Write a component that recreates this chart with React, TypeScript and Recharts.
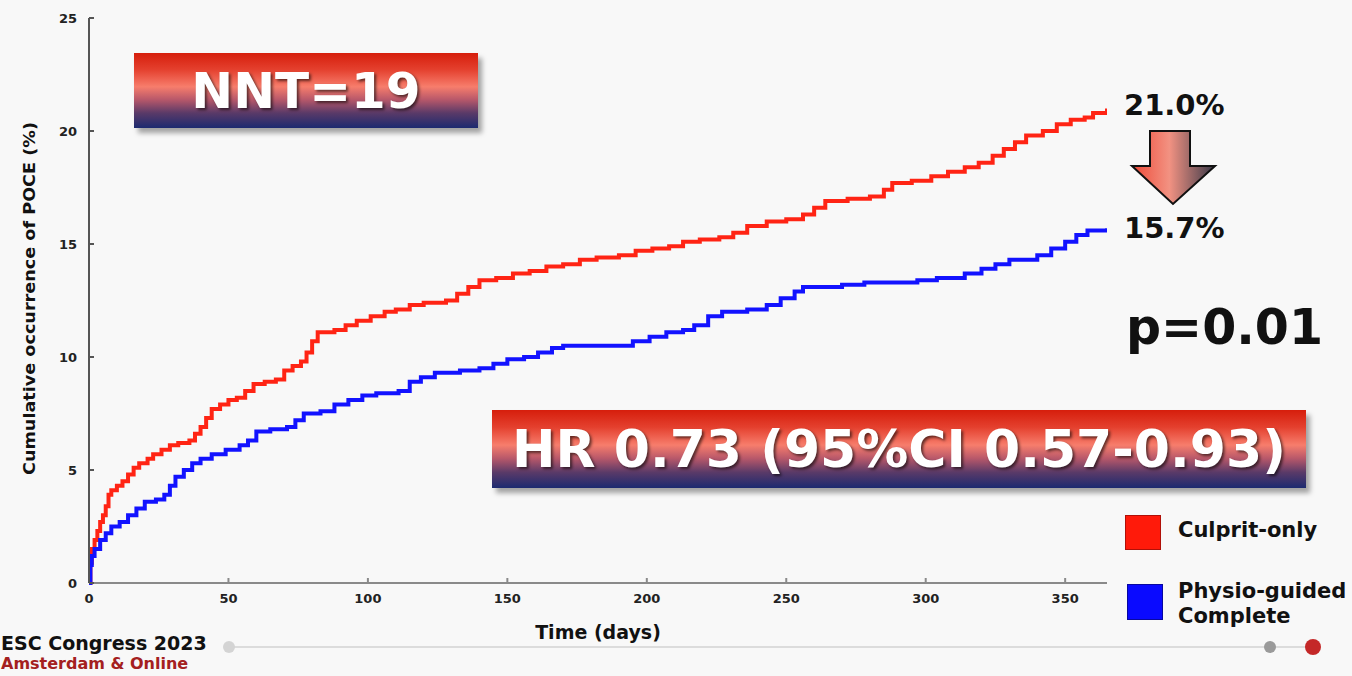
import React from 'react';
import { LineChart, Line, XAxis, YAxis } from 'recharts';

// Culprit-only arm (red)
const culpritDays = [0, 0.5, 1, 2, 3, 4, 5, 6, 7, 8, 10, 12, 14, 16, 18, 21, 23, 26, 29, 32, 36, 38, 40, 42, 44, 47, 50, 53, 56, 59, 63, 67, 70, 73, 76, 78, 80, 82, 88, 92, 96, 101, 106, 110, 115, 120, 128, 132, 136, 140, 146, 152, 158, 164, 170, 176, 182, 190, 196, 202, 208, 213, 219, 226, 231, 236, 243, 250, 256, 260, 264, 272, 280, 285, 288, 295, 302, 308, 314, 319, 324, 328, 332, 336, 342, 347, 352, 357, 360, 365];
const culpritPct = [0, 0.9, 1.5, 1.9, 2.3, 2.7, 3.0, 3.4, 3.9, 4.1, 4.3, 4.5, 4.8, 5.1, 5.3, 5.5, 5.7, 5.9, 6.1, 6.2, 6.3, 6.6, 6.9, 7.3, 7.7, 7.9, 8.1, 8.2, 8.5, 8.8, 8.9, 9.0, 9.4, 9.6, 9.8, 10.2, 10.7, 11.1, 11.2, 11.4, 11.6, 11.8, 12.0, 12.1, 12.3, 12.4, 12.5, 12.8, 13.1, 13.4, 13.5, 13.7, 13.8, 14.0, 14.1, 14.3, 14.4, 14.5, 14.7, 14.8, 14.9, 15.1, 15.2, 15.3, 15.5, 15.8, 16.0, 16.1, 16.3, 16.6, 16.9, 17.0, 17.1, 17.4, 17.7, 17.8, 18.0, 18.2, 18.4, 18.6, 18.9, 19.2, 19.5, 19.8, 20.0, 20.3, 20.5, 20.6, 20.8, 21.0];

// Physiology-guided complete arm (blue)
const physioDays = [0, 0.5, 1, 2, 4, 6, 8, 11, 14, 17, 20, 24, 27, 29, 31, 34, 37, 40, 44, 49, 54, 57, 60, 65, 71, 74, 77, 83, 88, 93, 98, 103, 111, 115, 119, 124, 133, 140, 145, 150, 156, 161, 166, 170, 188, 195, 201, 207, 213, 217, 222, 227, 236, 243, 248, 253, 256, 270, 278, 297, 304, 314, 320, 325, 330, 340, 345, 350, 354, 358, 365];
const physioPct = [0, 0.8, 1.2, 1.5, 1.9, 2.2, 2.5, 2.7, 3.0, 3.3, 3.6, 3.7, 3.9, 4.3, 4.7, 5.0, 5.3, 5.5, 5.7, 5.9, 6.1, 6.3, 6.7, 6.8, 6.9, 7.2, 7.5, 7.6, 7.9, 8.1, 8.3, 8.4, 8.5, 8.9, 9.1, 9.3, 9.4, 9.5, 9.7, 9.9, 10.0, 10.2, 10.4, 10.5, 10.5, 10.7, 10.9, 11.1, 11.2, 11.4, 11.8, 12.0, 12.1, 12.3, 12.6, 12.9, 13.1, 13.2, 13.3, 13.4, 13.5, 13.7, 13.9, 14.1, 14.3, 14.5, 14.8, 15.1, 15.4, 15.6, 15.7];

const xTicks = [0, 50, 100, 150, 200, 250, 300, 350];
const yTicks = [0, 5, 10, 15, 20, 25];
const topTicks = [0, 1, 2, 3, 4, 5, 6, 7, 8, 9];
const rightTicks = [1, 2, 3, 4, 5];

const culpritData = culpritDays.map((d, i) => ({ day: d, pct: culpritPct[i] }));
const physioData = physioDays.map((d, i) => ({ day: d, pct: physioPct[i] }));

const FONT = '"DejaVu Sans", Verdana, sans-serif';
const RED = '#ff2414';
const BLUE = '#1212ff';

const boxGradient =
  'linear-gradient(to bottom, #d61e0c 0%, #e4402e 22%, #f77d6c 45%, #b8586a 62%, #5a3a68 80%, #1c2a70 100%)';

const YLabel = (props: any) => {
  const vb = props.viewBox || {};
  const cx = 30;
  const cy = vb.y + vb.height / 2 - 2;
  return (
    <text
      x={cx}
      y={cy}
      transform={`rotate(-90 ${cx} ${cy})`}
      textAnchor="middle"
      dominantBaseline="central"
      fontFamily={FONT}
      fontSize={15}
      fontWeight="bold"
      fill="#111"
      textLength={353}
      lengthAdjust="spacingAndGlyphs"
    >
      Cumulative occurrence of POCE (%)
    </text>
  );
};

const XLabel = (props: any) => {
  const vb = props.viewBox || {};
  return (
    <text
      x={vb.x + vb.width / 2}
      y={632}
      textAnchor="middle"
      dominantBaseline="central"
      fontFamily={FONT}
      fontSize={19}
      fontWeight="bold"
      fill="#111"
    >
      Time (days)
    </text>
  );
};

const App: React.FC = () => {
  const tickStyle = { fontFamily: FONT, fontSize: 13, fontWeight: 'bold', fill: '#222' } as any;

  return (
    <div style={{ position: 'absolute', left: 0, top: 0, width: 1352, height: 676, background: '#f8f8f8', overflow: 'hidden', fontFamily: FONT }}>
      <LineChart width={1352} height={676} data={culpritData} margin={{ top: 18, right: 245, bottom: 63, left: 29 }}>
        <XAxis
          dataKey="day"
          type="number"
          domain={[0, 365]}
          ticks={xTicks}
          allowDataOverflow
          height={30}
          stroke="#8a8a8a"
          strokeWidth={2}
          tickSize={-5}
          tickMargin={16}
          tick={tickStyle}
          label={<XLabel />}
        />
        <XAxis
          xAxisId="top"
          orientation="top"
          type="number"
          domain={[-0.2545, 9]}
          ticks={topTicks}
          height={0}
          stroke="#9a9a9a"
          strokeWidth={2}
          tickSize={-4}
          tick={false}
        />
        <YAxis
          type="number"
          domain={[0, 25]}
          ticks={yTicks}
          width={60}
          stroke="#555"
          strokeWidth={2}
          tickSize={-5}
          tickMargin={17}
          tick={tickStyle}
          label={<YLabel />}
        />
        <YAxis
          yAxisId="right"
          orientation="right"
          type="number"
          domain={[0, 6]}
          ticks={rightTicks}
          width={0}
          stroke="#555"
          strokeWidth={2}
          tickSize={-5}
          tick={false}
        />
        <Line
          data={culpritData}
          dataKey="pct"
          type="stepAfter"
          stroke={RED}
          strokeWidth={4}
          dot={false}
          activeDot={false}
          isAnimationActive={false}
        />
        <Line
          data={physioData}
          dataKey="pct"
          type="stepAfter"
          stroke={BLUE}
          strokeWidth={4}
          dot={false}
          activeDot={false}
          isAnimationActive={false}
        />
      </LineChart>

      {/* NNT box */}
      <div style={{ position: 'absolute', left: 134, top: 53, width: 344, height: 75, background: boxGradient, boxShadow: '4px 5px 5px rgba(0,0,0,0.35)', display: 'flex', alignItems: 'center', justifyContent: 'center' }}>
        <span style={{ color: '#fff', fontWeight: 'bold', fontSize: 50, textShadow: '2px 2px 3px rgba(0,0,0,0.6)', lineHeight: 1 }}>NNT=19</span>
      </div>

      {/* HR box */}
      <div style={{ position: 'absolute', left: 492, top: 410, width: 814, height: 78, background: boxGradient, boxShadow: '4px 5px 5px rgba(0,0,0,0.35)', display: 'flex', alignItems: 'center', justifyContent: 'center' }}>
        <span style={{ color: '#fff', fontWeight: 'bold', fontSize: 52, textShadow: '2px 2px 3px rgba(0,0,0,0.6)', lineHeight: 1 }}>HR 0.73 (95%CI 0.57-0.93)</span>
      </div>

      {/* percentages and arrow */}
      <div style={{ position: 'absolute', left: 1124, top: 91, fontSize: 29, fontWeight: 'bold', color: '#111', lineHeight: 1 }}>21.0%</div>
      <div style={{ position: 'absolute', left: 1124, top: 214, fontSize: 29, fontWeight: 'bold', color: '#111', lineHeight: 1 }}>15.7%</div>
      <svg style={{ position: 'absolute', left: 0, top: 0 }} width={1352} height={676}>
        <defs>
          <linearGradient id="arrowGrad" x1="0" y1="0" x2="1" y2="0">
            <stop offset="0%" stopColor="#ee4a38" />
            <stop offset="45%" stopColor="#f29282" />
            <stop offset="100%" stopColor="#383848" />
          </linearGradient>
        </defs>
        <polygon
          points="1150,131 1190,131 1190,166 1215,166 1173,204 1132,166 1150,166"
          fill="url(#arrowGrad)"
          stroke="#111"
          strokeWidth={2}
          strokeLinejoin="miter"
        />
        {/* bottom progress bar */}
        <line x1={229} y1={647} x2={1313} y2={647} stroke="#dcdcdc" strokeWidth={2} />
        <circle cx={229} cy={647} r={6} fill="#d4d4d4" />
        <circle cx={1270} cy={647} r={6} fill="#9a9a9a" />
        <circle cx={1313} cy={647} r={8} fill="#c42828" />
      </svg>
      <div style={{ position: 'absolute', left: 1126, top: 303, fontSize: 49, fontWeight: 'bold', color: '#111', lineHeight: 1 }}>p=0.01</div>

      {/* legend */}
      <div style={{ position: 'absolute', left: 1125, top: 515, width: 36, height: 35, background: '#ff1a0a', border: '1px solid #b01008', boxSizing: 'border-box' }} />
      <div style={{ position: 'absolute', left: 1178, top: 520, fontSize: 21, fontWeight: 'bold', color: '#111', lineHeight: 1 }}>Culprit-only</div>
      <div style={{ position: 'absolute', left: 1127, top: 584, width: 36, height: 36, background: '#0a0aff', border: '1px solid #0808a0', boxSizing: 'border-box' }} />
      <div style={{ position: 'absolute', left: 1178, top: 579, fontSize: 21, fontWeight: 'bold', color: '#111', lineHeight: '25px' }}>
        Physio-guided<br />Complete
      </div>

      {/* footer */}
      <div style={{ position: 'absolute', left: 1, top: 634, fontSize: 19, fontWeight: 'bold', color: '#111', lineHeight: 1 }}>ESC Congress 2023</div>
      <div style={{ position: 'absolute', left: 1, top: 656, fontSize: 16, fontWeight: 'bold', color: '#a42020', lineHeight: 1 }}>Amsterdam &amp; Online</div>
    </div>
  );
};

export default App;
